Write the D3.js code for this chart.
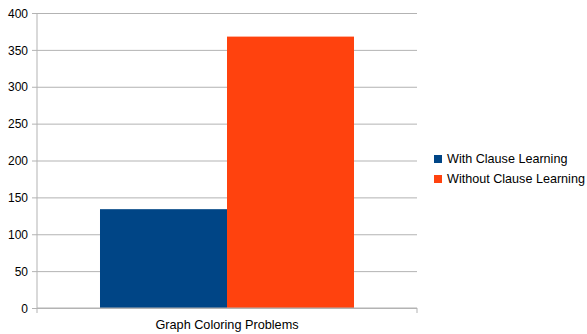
<!DOCTYPE html>
<html>
<head>
<meta charset="utf-8">
<script src="https://cdn.jsdelivr.net/npm/d3@7"></script>
<style>
  body { margin: 0; background: #fff; }
  text { font-family: "Liberation Sans", Arial, sans-serif; fill: #000; }
</style>
</head>
<body>
<svg width="587" height="334"></svg>
<script>
const categories = ['Graph Coloring Problems'];
const seriesNames = ['With Clause Learning', 'Without Clause Learning'];
const withLearning = [134];
const withoutLearning = [368];
const yTicks = [0, 50, 100, 150, 200, 250, 300, 350, 400];
const colors = ['#004586', '#ff420e'];

const svg = d3.select('svg');
const margin = { top: 13, left: 37, right: 170, bottom: 26 };
const innerWidth = 587 - margin.left - margin.right;
const innerHeight = 334 - margin.top - margin.bottom;

const g = svg.append('g').attr('transform', `translate(${margin.left},${margin.top})`);

const xScale = d3.scaleBand().domain(categories).range([0, innerWidth]).paddingOuter(0.248).paddingInner(0);
const sub = d3.scaleBand().domain(seriesNames).range([0, xScale.bandwidth()]);
const yScale = d3.scaleLinear().domain([0, 400]).range([innerHeight, 0]);

// gridlines + left ticks
const yAxis = d3.axisLeft(yScale).tickValues(yTicks).tickSize(-innerWidth).tickPadding(9);
const yAxisG = g.append('g').call(yAxis);
yAxisG.select('.domain').remove();
yAxisG.selectAll('.tick line').attr('stroke', '#b3b3b3').attr('x1', -5);
yAxisG.selectAll('.tick text').attr('font-size', 12).attr('dy', '0.35em');

const rows = categories.map((c, i) => ({ cat: c, values: [withLearning[i], withoutLearning[i]] }));

g.selectAll('.grp').data(rows).enter().append('g')
  .attr('transform', d => `translate(${xScale(d.cat)},0)`)
  .selectAll('rect').data(d => d.values.map((v, j) => ({ name: seriesNames[j], v, j })))
  .enter().append('rect')
  .attr('x', d => sub(d.name))
  .attr('y', d => yScale(d.v))
  .attr('width', sub.bandwidth())
  .attr('height', d => innerHeight - yScale(d.v))
  .attr('fill', d => colors[d.j]);

// axes lines
g.append('line').attr('x1', 0).attr('x2', 0).attr('y1', 0).attr('y2', innerHeight + 5).attr('stroke', '#b3b3b3');
g.append('line').attr('x1', 0).attr('x2', innerWidth).attr('y1', innerHeight).attr('y2', innerHeight).attr('stroke', '#b3b3b3');
g.append('line').attr('x1', innerWidth).attr('x2', innerWidth).attr('y1', innerHeight).attr('y2', innerHeight + 5).attr('stroke', '#b3b3b3');

const xAxisG = g.append('g').attr('transform', `translate(0,${innerHeight})`)
  .call(d3.axisBottom(xScale).tickSize(0).tickPadding(12));
xAxisG.select('.domain').remove();
xAxisG.selectAll('text').attr('font-size', 12.7);

// legend
const legend = svg.append('g').attr('transform', 'translate(434,155)');
seriesNames.forEach((n, i) => {
  legend.append('rect').attr('x', 0).attr('y', i * 20).attr('width', 8).attr('height', 8).attr('fill', colors[i]);
  legend.append('text').attr('x', 13).attr('y', i * 20 + 4).attr('dy', '0.35em').attr('font-size', 12.6).text(n);
});
</script>
</body>
</html>
